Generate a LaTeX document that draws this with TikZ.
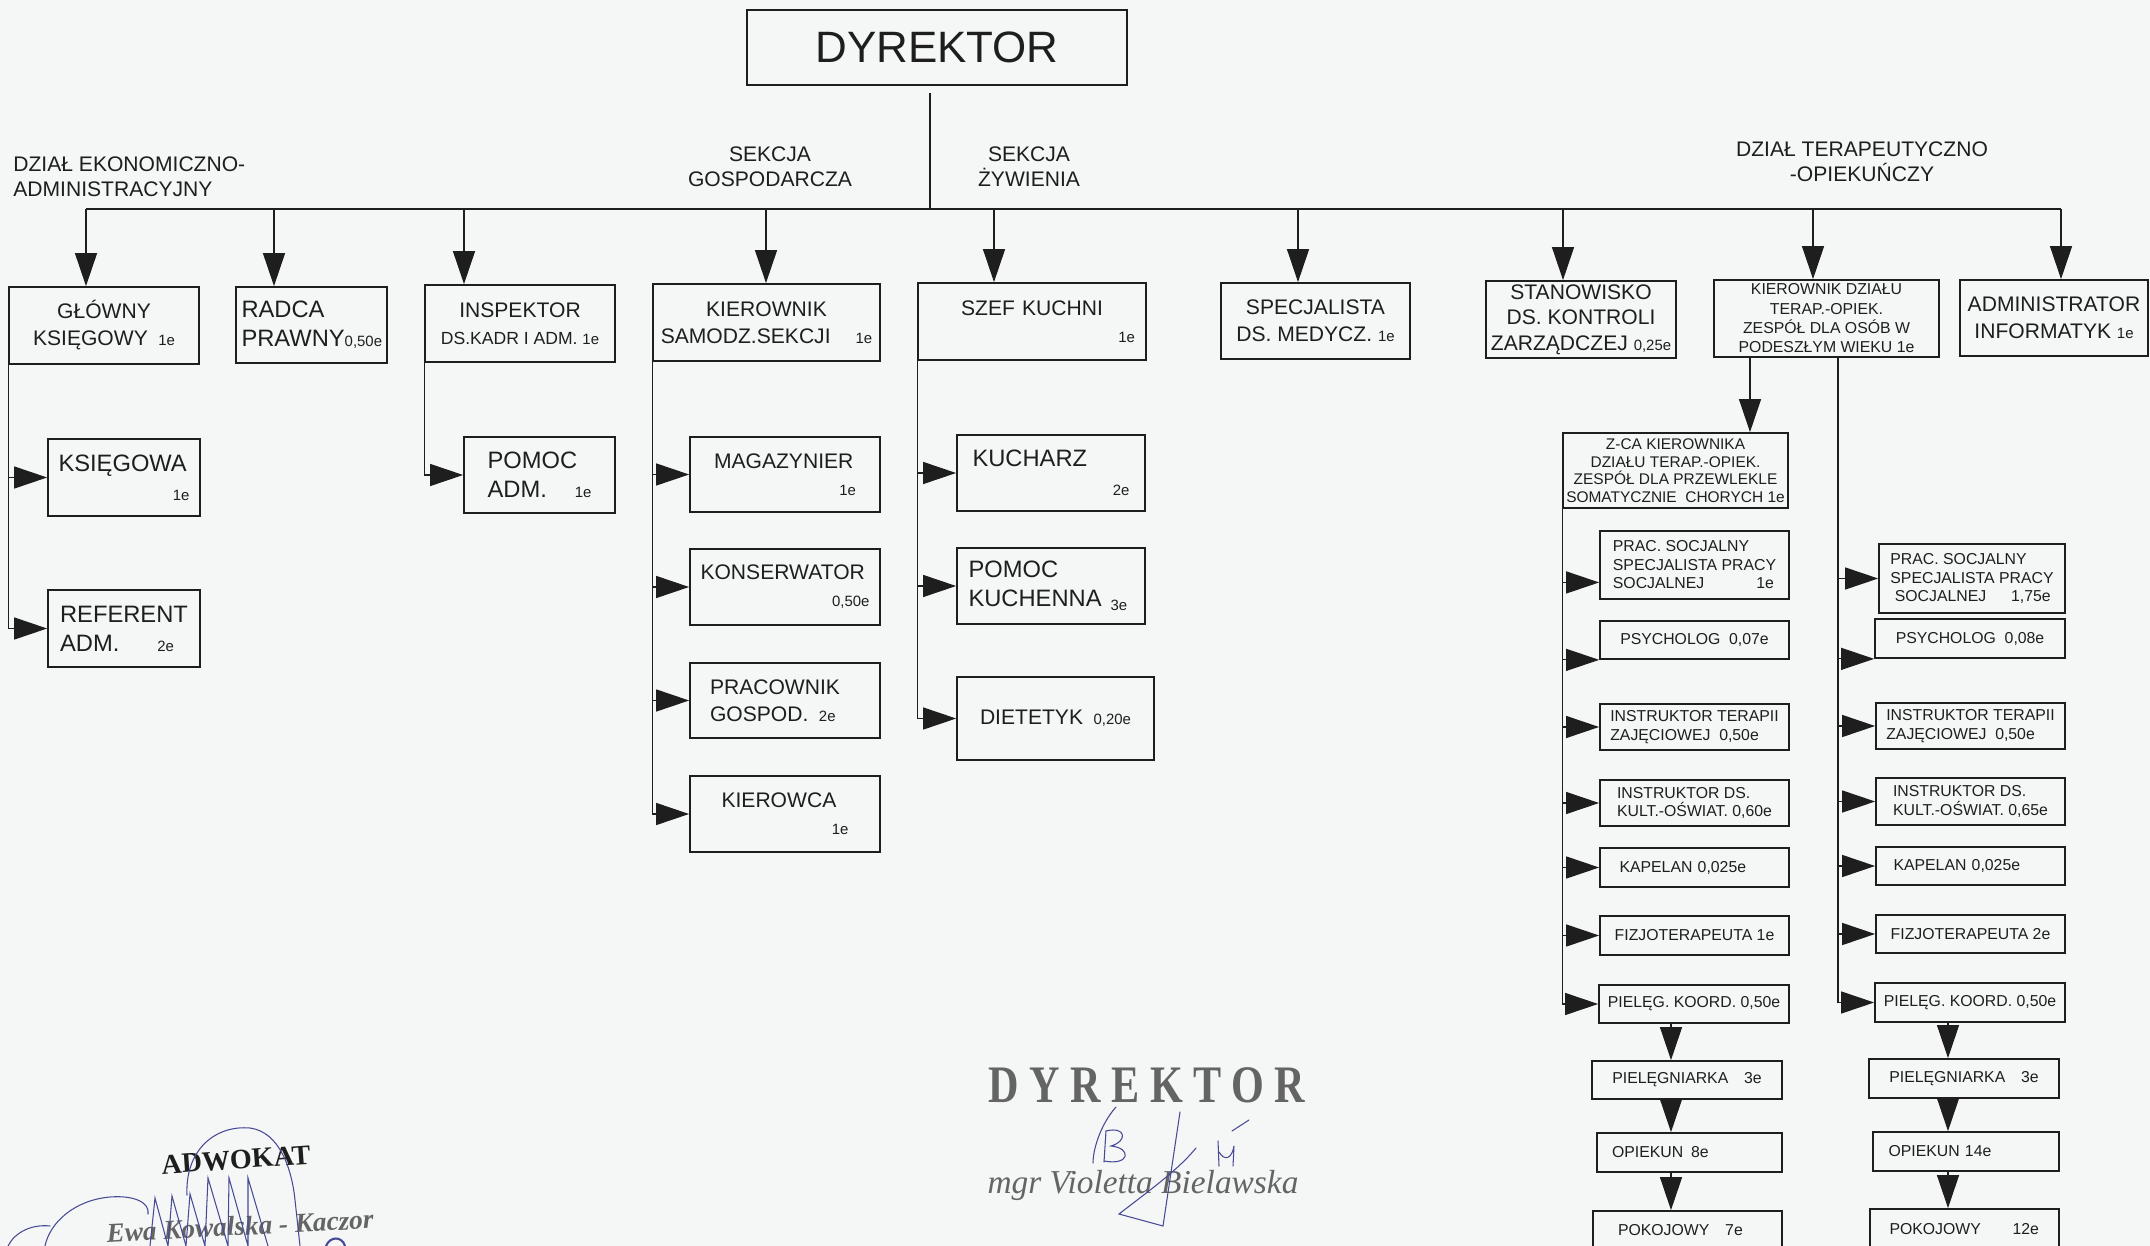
\documentclass[tikz,border=0pt]{standalone}
\usepackage{fontspec}
\setmainfont{Liberation Sans}
\newfontfamily\stampfont{Liberation Serif}[FakeStretch=0.8,LetterSpace=20]
\newfontfamily\serifface{Liberation Serif}
\usepackage{tikz}
\usetikzlibrary{arrows.meta}
\usetikzlibrary{calc}
\definecolor{ink}{RGB}{30,30,30}
\definecolor{paper}{RGB}{244,247,246}
\definecolor{pen}{RGB}{72,74,150}
\definecolor{stamp}{RGB}{100,100,100}
\newcommand{\etat}[1]{{\fontsize{8.5}{9}\selectfont #1}}
\newcommand{\etatr}[1]{\makebox[\linewidth][r]{\etat{#1}}}

\begin{document}
\begin{tikzpicture}[x=0.02cm, y=-0.02cm,
  box/.style={draw=ink, line width=1pt, inner sep=0pt, text=ink, font=\fontsize{12}{15.4}\selectfont},
  wh/.style 2 args={minimum width=#1*0.02cm, minimum height=#2*0.02cm},
  bigtxt/.style={font=\fontsize{13.5}{16.5}\selectfont},
  sbox/.style={box, font=\fontsize{9}{10.5}\selectfont},
  lbl/.style={text=ink, inner sep=0pt, align=center, font=\fontsize{12}{14.2}\selectfont},
  conn/.style={draw=ink, line width=0.7pt},
  arr/.style={conn, -{Triangle[length=0.66cm, width=0.44cm]}},
  sig/.style={draw=pen, line width=0.6pt, line cap=round}]
\useasboundingbox (0,0) rectangle (2150,1246);
\fill[paper] (0,0) rectangle (2150,1246);

\node[box, wh={380}{75}, font=\fontsize{25}{30}\selectfont] (dyr) at (937,47.5) {DYREKTOR};

\node[lbl, align=left, anchor=west] (lbl-ekon) at (13,177) {DZIAŁ EKONOMICZNO-\\ADMINISTRACYJNY};
\node[lbl] (lbl-gosp) at (770,167) {SEKCJA\\GOSPODARCZA};
\node[lbl] (lbl-zyw) at (1029,167) {SEKCJA\\ŻYWIENIA};
\node[lbl] (lbl-ter) at (1862,162) {DZIAŁ TERAPEUTYCZNO\\-OPIEKUŃCZY};

\node[box, wh={190}{77}, align=center] (glowny) at (104,325.5) {GŁÓWNY\\KSIĘGOWY\enspace\etat{1e}};
\node[box, bigtxt, wh={151}{76}, align=left, text width=2.8cm] (radca) at (311.5,325) {RADCA\\PRAWNY\etat{0,50e}};
\node[box, wh={190}{77}, align=center] (insp) at (520,323.5) {INSPEKTOR\\{\fontsize{10}{12}\selectfont DS.KADR I ADM. \etat{1e}}};
\node[box, wh={227}{77}, align=center] (kiersam) at (766.5,322.5) {KIEROWNIK\\SAMODZ.SEKCJI\hspace{0.5cm}\etat{1e}};
\node[box, wh={228}{77}, align=left, text width=4.12cm] (szef) at (1032,321.5) {\makebox[\linewidth]{SZEF KUCHNI}\\\etatr{1e}};
\node[box, wh={189}{76}, align=center] (specj) at (1315.5,321) {SPECJALISTA\\DS. MEDYCZ. \etat{1e}};
\node[box, wh={190}{77}, align=center, font=\fontsize{12}{14.5}\selectfont] (stanow) at (1581,319.5) {STANOWISKO\\DS. KONTROLI\\ZARZĄDCZEJ \etat{0,25e}};
\node[sbox, wh={225}{77}, align=center, font=\fontsize{9}{11}\selectfont] (kierdz) at (1826.5,318.5) {KIEROWNIK DZIAŁU\\TERAP.-OPIEK.\\ZESPÓŁ DLA OSÓB W\\PODESZŁYM WIEKU 1e};
\node[box, wh={188}{76}, align=center] (admin) at (2054,318) {ADMINISTRATOR\\INFORMATYK \etat{1e}};

\node[box, bigtxt, wh={152}{77}, align=left, text width=2.62cm] (ksieg) at (124,477.5) {KSIĘGOWA\\\etatr{1e}};
\node[box, bigtxt, wh={152}{77}, align=left] (refer) at (124,628.5) {REFERENT\\ADM.\hspace{0.76cm}\etat{2e}};
\node[box, bigtxt, wh={151}{76}, align=left] (pomadm) at (539.5,475) {POMOC\\ADM.\hspace{0.56cm}\etat{1e}};

\node[box, wh={190}{75}, align=left, text width=2.84cm] (magaz) at (785,474.5) {MAGAZYNIER\\\etatr{1e}};
\node[box, wh={190}{76}, align=left, text width=3.38cm] (konserw) at (785,587) {KONSERWATOR\\\etatr{0,50e}};
\node[box, wh={190}{75}, align=left, text width=3.0cm] (pracg) at (785,700.5) {PRACOWNIK\\GOSPOD.\enspace\etat{2e}};
\node[box, wh={190}{76}, align=left, text width=2.54cm] (kierowca) at (785,814) {KIEROWCA\\\etatr{1e}};

\node[box, bigtxt, wh={188}{76}, align=left, text width=3.14cm] (kucharz) at (1051,473) {KUCHARZ\\\etatr{2e}};
\node[box, bigtxt, wh={188}{76}, align=left, text width=3.3cm] (pomkuch) at (1051,586) {POMOC\\KUCHENNA\hspace{0.18cm}\raisebox{-2pt}{\etat{3e}}};
\node[box, wh={197}{83}, align=center] (dietet) at (1055.5,718.5) {DIETETYK\enspace\etat{0,20e}};

\node[sbox, wh={225}{75}, align=center, font=\fontsize{8.8}{10}\selectfont] (zca) at (1675.5,470.5) {Z-CA KIEROWNIKA\\DZIAŁU TERAP.-OPIEK.\\ZESPÓŁ DLA PRZEWLEKLE\\SOMATYCZNIE\ \ CHORYCH 1e};

\node[sbox, wh={189}{68}, align=left] (pracL) at (1694.5,565) {PRAC. SOCJALNY\\SPECJALISTA PRACY\\SOCJALNEJ\hspace{1.04cm}1e};
\node[sbox, wh={189}{38}, align=center] (psychL) at (1694.5,640) {PSYCHOLOG\ \ 0,07e};
\node[sbox, wh={189}{46}, align=left] (terL) at (1694.5,727) {INSTRUKTOR TERAPII\\ZAJĘCIOWEJ\ \ 0,50e};
\node[sbox, wh={189}{46}, align=left] (kultL) at (1694.5,803) {INSTRUKTOR DS.\\KULT.-OŚWIAT. 0,60e};
\node[sbox, wh={189}{39}, align=left, text width=3.0cm] (kapL) at (1694.5,867.5) {KAPELAN 0,025e};
\node[sbox, wh={189}{39}, align=center] (fizjoL) at (1694.5,935.5) {FIZJOTERAPEUTA 1e};
\node[sbox, wh={190}{38}, align=center] (koordL) at (1694,1004) {PIELĘG.\ KOORD.\ 0,50e};
\node[sbox, wh={190}{38}, align=center] (pielL) at (1687,1080) {PIELĘGNIARKA\quad 3e};
\node[sbox, wh={185}{39}, align=left, text width=3.1cm] (opiekL) at (1689.5,1152.5) {OPIEKUN\enspace 8e};
\node[sbox, wh={189}{38}, align=left, text width=2.78cm] (pokL) at (1687.5,1230) {POKOJOWY\quad 7e};

\node[sbox, wh={186}{69}, align=left] (pracR) at (1972,578.5) {PRAC. SOCJALNY\\SPECJALISTA PRACY\\\ SOCJALNEJ\hspace{0.5cm}1,75e};
\node[sbox, wh={190}{39}, align=center] (psychR) at (1970,638.5) {PSYCHOLOG\ \ 0,08e};
\node[sbox, wh={189}{46}, align=left] (terR) at (1970.5,726) {INSTRUKTOR TERAPII\\ZAJĘCIOWEJ\ \ 0,50e};
\node[sbox, wh={189}{47}, align=left] (kultR) at (1970.5,801.5) {INSTRUKTOR DS.\\KULT.-OŚWIAT. 0,65e};
\node[sbox, wh={189}{38}, align=left, text width=3.08cm] (kapR) at (1970.5,866) {KAPELAN 0,025e};
\node[sbox, wh={189}{38}, align=center] (fizjoR) at (1970.5,934) {FIZJOTERAPEUTA 2e};
\node[sbox, wh={190}{39}, align=center] (koordR) at (1970,1002.5) {PIELĘG.\ KOORD.\ 0,50e};
\node[sbox, wh={190}{39}, align=center] (pielR) at (1964,1078.5) {PIELĘGNIARKA\quad 3e};
\node[sbox, wh={186}{39}, align=left, text width=3.1cm] (opiekR) at (1966,1151.5) {OPIEKUN 14e};
\node[sbox, wh={189}{40}, align=left, text width=3.0cm] (pokR) at (1964.5,1229) {POKOJOWY\qquad 12e};

\coordinate (dtop) at (930,93);
\foreach \n/\x in {glowny/86, radca/274, insp/464, kiersam/766, szef/994, specj/1298, stanow/1563, kierdz/1813, admin/2061} {
  \coordinate (b-\n) at (\x,209);
  \draw[arr] (b-\n) -- (b-\n |- \n.north);
}
\draw[conn, line width=1.1pt] (b-glowny) -- (b-admin);
\draw[conn] (dtop) -- (dtop |- b-glowny);

\draw[conn] (glowny.south west) -- (glowny.south west |- refer.west);
\foreach \n in {ksieg, refer}
  \draw[arr] (glowny.south west |- \n.west) -- (\n.west);
\draw[conn] (insp.south west) -- (insp.south west |- pomadm.west);
\draw[arr] (insp.south west |- pomadm.west) -- (pomadm.west);
\draw[conn] (kiersam.south west) -- (kiersam.south west |- kierowca.west);
\foreach \n in {magaz, konserw, pracg, kierowca}
  \draw[arr] (kiersam.south west |- \n.west) -- (\n.west);
\draw[conn] (szef.south west) -- (szef.south west |- dietet.west);
\foreach \n in {kucharz, pomkuch, dietet}
  \draw[arr] (szef.south west |- \n.west) -- (\n.west);

\coordinate (zin) at (1750,0);
\draw[arr] (zin |- kierdz.south) -- (zin |- zca.north);
\draw[conn] (zca.south west) -- (zca.south west |- koordL.west);
\coordinate (pracL-in) at ($(pracL.west)!0.5!(pracL.south west)$);
\draw[arr] (zca.south west |- pracL-in) -- (pracL-in);
\draw[arr] (zca.south west |- psychL.south west) -- (psychL.south west);
\foreach \n in {terL, kultL, kapL, fizjoL, koordL}
  \draw[arr] (zca.south west |- \n.west) -- (\n.west);

\coordinate (trR) at (1838,0);
\draw[conn] (trR |- kierdz.south) -- (trR |- koordR.west);
\draw[arr] (trR |- psychR.south west) -- (psychR.south west);
\foreach \n in {pracR, terR, kultR, kapR, fizjoR, koordR}
  \draw[arr] (trR |- \n.west) -- (\n.west);

\coordinate (cL) at (1671,0);
\coordinate (cR) at (1948,0);
\foreach \a/\b in {koordL/pielL, pielL/opiekL, opiekL/pokL}
  \draw[arr] (cL |- \a.south) -- (cL |- \b.north);
\foreach \a/\b in {koordR/pielR, pielR/opiekR, opiekR/pokR}
  \draw[arr] (cR |- \a.south) -- (cR |- \b.north);

\node[text=stamp, font=\stampfont\bfseries\fontsize{30}{32}\selectfont] (st-dyr) at (1147,1085) {DYREKTOR};
\node[text=stamp, font=\serifface\itshape\fontsize{19}{22}\selectfont] (st-name) at (1143,1185) {mgr Violetta Bielawska};
\node[text=ink, rotate=4, font=\serifface\bfseries\fontsize{16}{18}\selectfont] (st-adw) at (236,1160) {ADWOKAT};
\node[text=stamp, rotate=3, font=\serifface\bfseries\itshape\fontsize{15.5}{18}\selectfont] (st-adwname) at (240,1226) {Ewa Kowalska - Kaczor};

\draw[sig] (1116,1107) .. controls (1100,1125) and (1093,1150) .. (1093,1163);
\draw[sig] (1106,1131) -- (1104,1162);
\draw[sig] (1106,1131) .. controls (1126,1126) and (1128,1141) .. (1111,1146) .. controls (1132,1148) and (1130,1166) .. (1104,1161);
\draw[sig] (1180,1112) -- (1163,1226) -- (1119,1214) .. controls (1150,1190) and (1178,1170) .. (1196,1148);
\draw[sig] (1218,1141) -- (1219,1166);
\draw[sig] (1219,1152) .. controls (1225,1162) and (1232,1158) .. (1234,1146) -- (1233,1166);
\draw[sig] (1232,1131) -- (1249,1120);

\draw[sig] (187,1195) .. controls (185,1150) and (215,1125) .. (250,1128) .. controls (280,1132) and (292,1170) .. (295,1200) -- (300,1246);
\draw[sig] (150,1246) -- (155,1198) -- (168,1246) -- (172,1196) -- (186,1246) -- (190,1194) -- (205,1246) -- (208,1178) -- (228,1246) -- (229,1178) -- (248,1246) -- (248,1178) -- (268,1246);
\draw[sig] (45,1246) .. controls (50,1222) and (75,1200) .. (110,1197) .. controls (135,1195) and (150,1203) .. (148,1214);
\draw[sig] (8,1246) .. controls (15,1232) and (32,1224) .. (50,1226);
\draw[sig, line width=1.2pt] (326,1246) .. controls (330,1236) and (342,1236) .. (345,1246);
\end{tikzpicture}
\end{document}
